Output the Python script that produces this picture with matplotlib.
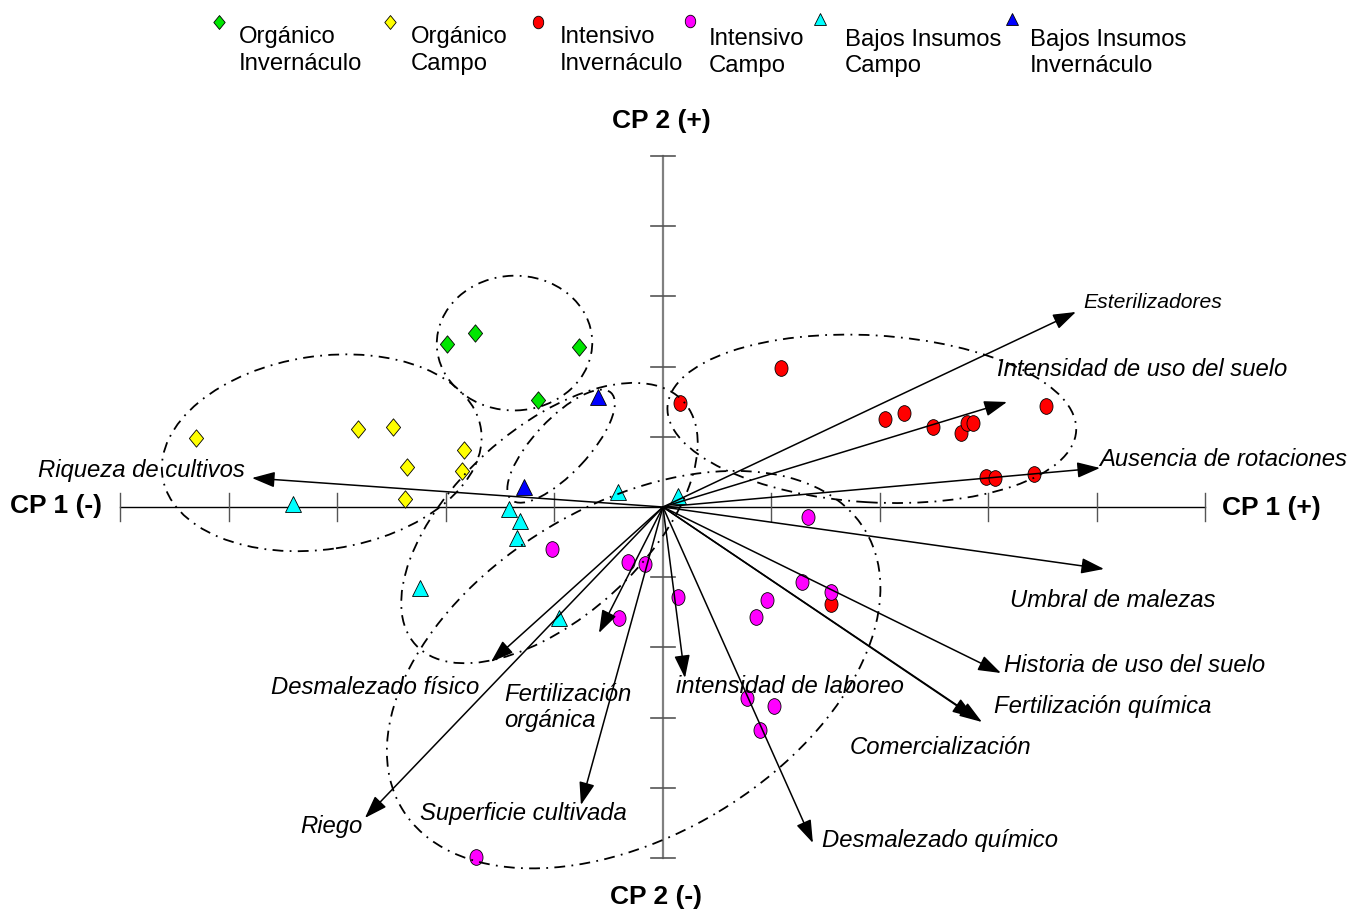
import numpy as np
import matplotlib
matplotlib.use('Agg')
import matplotlib.pyplot as plt
from matplotlib.patches import Ellipse
from matplotlib.path import Path
from matplotlib.transforms import Affine2D

plt.rcParams['font.family'] = ['Liberation Sans', 'DejaVu Sans']

# ---------------- datos (CP1, CP2) ----------------
org_inv_x = [-1.991, -1.733, -0.774, -1.152]
org_inv_y = [2.322, 2.479, 2.279, 1.524]

org_campo_x = [-4.304, -2.811, -2.488, -1.834, -2.359, -1.853, -2.378]
org_campo_y = [0.983, 1.111, 1.140, 0.812, 0.570, 0.513, 0.114]

int_inv_x = [1.088, 0.157, 2.046, 2.221, 2.488, 2.747, 2.802, 2.857, 3.530, 2.977, 3.060, 3.419, 1.548]
int_inv_y = [1.980, 1.481, 1.254, 1.339, 1.140, 1.054, 1.197, 1.197, 1.439, 0.427, 0.413, 0.470, -1.382]

int_campo_x = [1.336, 1.281, 1.548, 0.959, 0.857, 0.138, 0.774, 1.023, 0.894, -1.023, -0.323, -0.166, -0.406, -1.724]
int_campo_y = [-0.142, -1.068, -1.211, -1.325, -1.567, -1.282, -2.721, -2.835, -3.177, -0.598, -0.783, -0.812, -1.581, -4.986]

bajos_campo_x = [-3.410, -1.419, -1.318, -1.346, -2.240, -0.959, -0.415, 0.138]
bajos_campo_y = [0.043, -0.028, -0.199, -0.442, -1.154, -1.581, 0.214, 0.157]

bajos_inv_x = [-0.599, -1.281]
bajos_inv_y = [1.567, 0.285]

# variables (vectores)
variables = ['Esterilizadores', 'Intensidad de uso del suelo', 'Ausencia de rotaciones',
             'Riqueza de cultivos', 'Umbral de malezas', 'Historia de uso del suelo',
             'Fertilización química', 'Comercialización', 'Desmalezado químico',
             'intensidad de laboreo', 'Superficie cultivada', 'Fertilización\norgánica',
             'Desmalezado físico', 'Riego']
vec_x = [3.806, 3.171, 4.028, -3.788, 4.065, 3.115, 2.940, 2.876, 1.382, 0.203, -0.756, -0.590, -1.585, -2.747]
vec_y = [2.778, 1.496, 0.556, 0.413, -0.883, -2.365, -3.063, -3.006, -4.786, -2.436, -4.245, -1.795, -2.208, -4.430]

# elipses de agrupamiento: centro (CP1, CP2), ejes (en unidades de CP1) y angulo visual
ell_cx = [-1.368, -3.145, 1.925, -0.939, -1.046, -0.270]
ell_cy = [2.335, 0.772, 1.256, 0.866, -0.229, -2.317]
ell_w = [1.433, 2.968, 3.773, 1.348, 3.335, 4.980]
ell_h = [1.242, 1.780, 1.539, 0.501, 1.739, 3.051]
ell_ang = [1.6, 8.5, -3.4, 46.9, 42.2, 31.0]

# ---------------- figura ----------------
fig = plt.figure(figsize=(13.5, 9.11), dpi=100)
ax = fig.add_axes([0, 0, 1, 1])
ax.set_xlim(-6.11, 6.332)
ax.set_ylim(-5.755, 7.222)
ax.axis('off')

# relacion de escala vertical / horizontal en pixeles
k = (911 / 12.977) / (1350 / 12.442)

# ejes
ticks = np.arange(-5, 6)
ax.plot([-5, 5], [0, 0], color='black', lw=1, zorder=1)
ax.plot([0, 0], [-5, 5], color='#808080', lw=1.6, zorder=1)
for t in ticks:
    if t != 0:
        ax.plot([t, t], [-0.2, 0.2], color='#555555', lw=1, zorder=1)
        ax.plot([-0.11, 0.11], [t, t], color='#555555', lw=1.2, zorder=1)

diamond = Path([(0, 1), (0.82, 0), (0, -1), (-0.82, 0), (0, 0)],
               [Path.MOVETO, Path.LINETO, Path.LINETO, Path.LINETO, Path.CLOSEPOLY])
oval = Path.unit_circle().transformed(Affine2D().scale(0.83, 1))

grupos = [
    (org_inv_x, org_inv_y, diamond, '#00e600', 12.5),
    (org_campo_x, org_campo_y, diamond, '#ffff00', 12.5),
    (int_inv_x, int_inv_y, oval, '#ff0000', 11.3),
    (int_campo_x, int_campo_y, oval, '#ff00ff', 11.3),
    (bajos_campo_x, bajos_campo_y, '^', '#00ffff', 11.3),
    (bajos_inv_x, bajos_inv_y, '^', '#0000ff', 11.3),
]
for gx, gy, m, col, ms in grupos:
    ax.plot(gx, gy, ls='none', marker=m, ms=ms, mfc=col, mec='black', mew=0.6, zorder=2)

# elipses
for cx, cy, w, h, ang in zip(ell_cx, ell_cy, ell_w, ell_h, ell_ang):
    e = Ellipse((cx, cy * k), w, h, angle=ang, fill=False, ec='black', lw=1.3,
                ls=(0, (6, 3.5, 1, 3.5)),
                transform=Affine2D().scale(1, 1 / k) + ax.transData, zorder=3)
    ax.add_patch(e)

# vectores
for vx, vy in zip(vec_x, vec_y):
    ax.annotate('', xy=(vx, vy), xytext=(0, 0),
                arrowprops=dict(arrowstyle='-|>,head_length=0.7,head_width=0.24',
                                mutation_scale=20, color='black', lw=1.1,
                                shrinkA=0, shrinkB=0), zorder=4)

lab_x = [3.871, 3.078, 4.018, -5.760, 3.198, 3.143, 3.051, 1.724, 1.465, 0.120, -2.240, -1.465, -3.613, -3.346]
lab_y = [2.920, 1.952, 0.670, 0.513, -1.325, -2.265, -2.835, -3.419, -4.744, -2.550, -4.373, -2.856, -2.578, -4.558]
for name, lx, ly in zip(variables, lab_x, lab_y):
    fs = 15.2 if name == 'Esterilizadores' else 17.2
    ax.text(lx, ly, name, ha='left', va='center', style='italic', fontsize=fs,
            linespacing=1.2, zorder=5)

# rotulos de ejes
ax.text(-0.018, 5.499, 'CP 2 (+)', ha='center', va='center', fontsize=19, fontweight='bold')
ax.text(-0.065, -5.556, 'CP 2 (-)', ha='center', va='center', fontsize=19, fontweight='bold')
ax.text(-6.018, 0.014, 'CP 1 (-)', ha='left', va='center', fontsize=19, fontweight='bold')
ax.text(5.152, -0.014, 'CP 1 (+)', ha='left', va='center', fontsize=19, fontweight='bold')

# leyenda
ley_txt = ['Orgánico\nInvernáculo', 'Orgánico\nCampo', 'Intensivo\nInvernáculo',
           'Intensivo\nCampo', 'Bajos Insumos\nCampo', 'Bajos Insumos\nInvernáculo']
ley_mx = [0.1622, 0.2889, 0.3985, 0.5111, 0.6074, 0.7496]
ley_my = [0.9759, 0.9759, 0.9759, 0.9770, 0.9791, 0.9791]
ley_tx = [0.1770, 0.3044, 0.4148, 0.5252, 0.6259, 0.7630]
ley_ty = [0.9446, 0.9446, 0.9446, 0.9424, 0.9418, 0.9418]
for (gx, gy, m, col, ms), t, mx, my, tx, ty in zip(grupos, ley_txt, ley_mx, ley_my, ley_tx, ley_ty):
    ax.plot([mx], [my], ls='none', marker=m, ms=ms * 0.8, mfc=col, mec='black', mew=0.6,
            transform=ax.transAxes, clip_on=False)
    ax.text(tx, ty, t, ha='left', va='center', fontsize=17.2, linespacing=1.25,
            transform=ax.transAxes)

fig.savefig('out.png', dpi=100)
